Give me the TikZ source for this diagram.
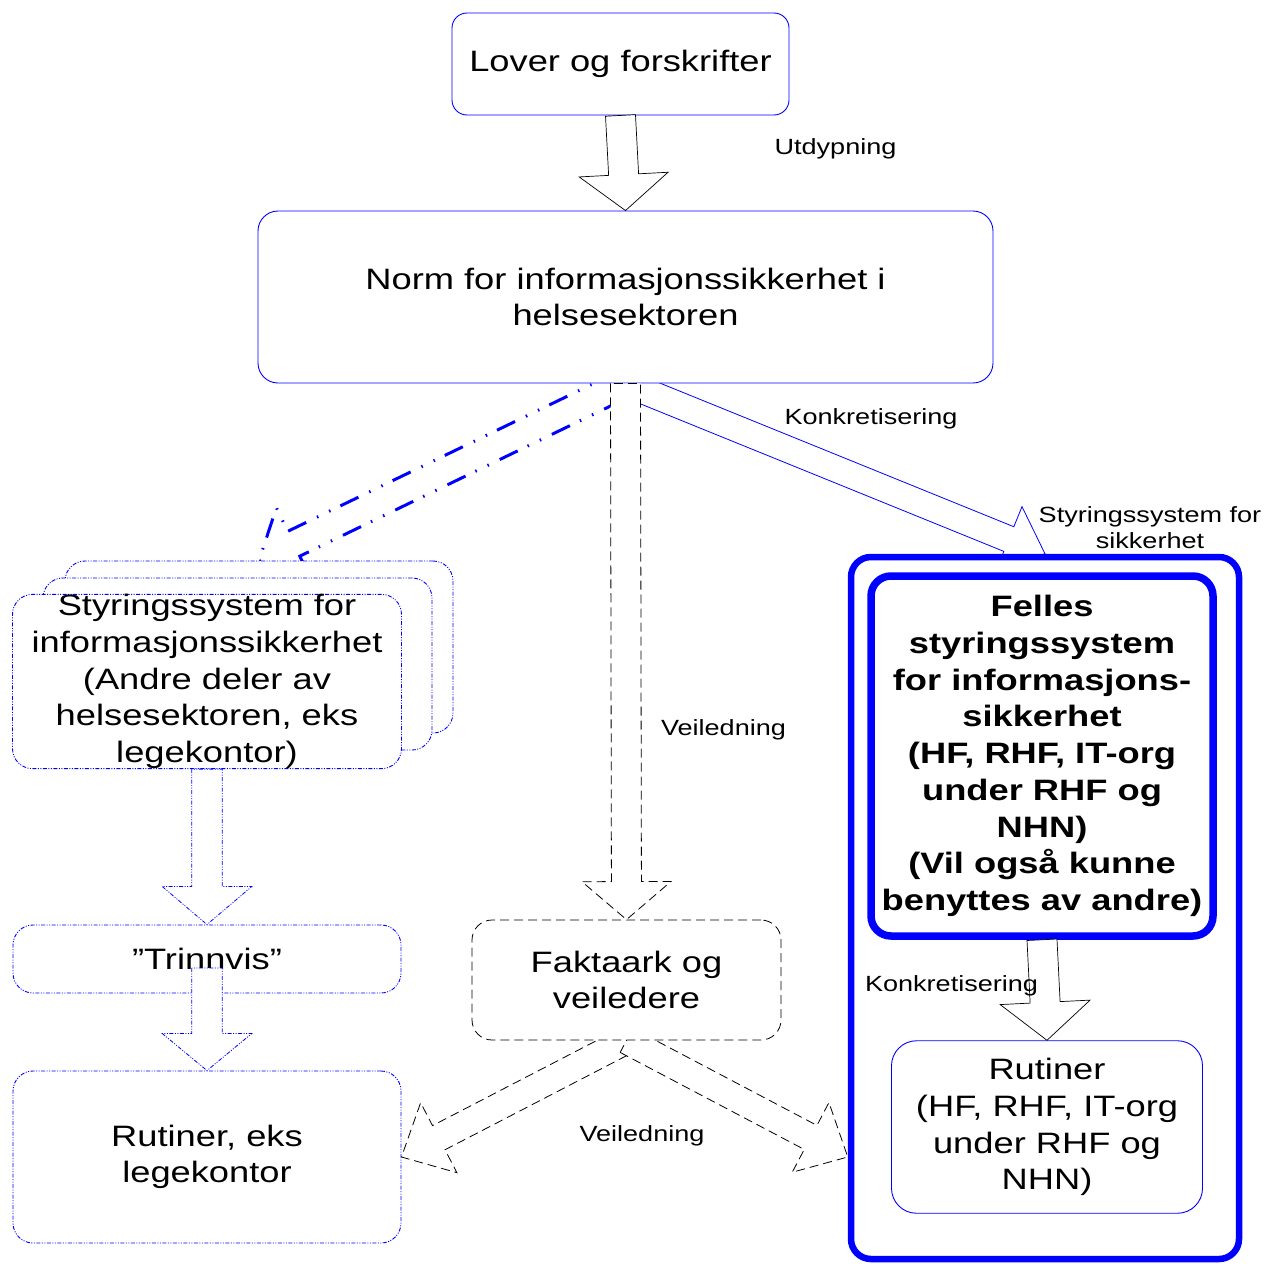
\documentclass[tikz,border=0pt]{standalone}
\usepackage{fontspec}
\setmainfont[FakeStretch=1.23]{Liberation Sans}
\usetikzlibrary{positioning, calc, backgrounds}

% wide hollow arrow: style, from, to, half shaft, half head, head length
\newcommand{\blockarrow}[6]{%
  \filldraw[#1] let \p1=#2, \p2=#3, \n1={atan2(\y2-\y1,\x2-\x1)}, \n2={veclen(\x2-\x1,\y2-\y1)} in
    [shift={(\p1)}, rotate=\n1] (0,#4) -- ({\n2-#6},#4) -- ({\n2-#6},#5) -- (\n2,0)
    -- ({\n2-#6},-#5) -- ({\n2-#6},-#4) -- (0,-#4) -- cycle;}

\begin{document}
\begin{tikzpicture}[x=1pt, y=-1pt, on grid,
  box/.style={draw=blue, line width=0.9pt, fill=white, rounded corners=20pt, align=center,
    inner sep=0pt, font=\fontsize{29.5}{36.7}\selectfont},
  dotbox/.style={box, dash pattern=on 4pt off 1.5pt on 1pt off 1.5pt on 1pt off 1.5pt},
  dashbox/.style={box, draw=black, line width=0.8pt, dash pattern=on 9pt off 5pt},
  lbl/.style={inner sep=0pt, align=center, font=\fontsize{22}{26}\selectfont},
  fatarrow/.style={draw=black, fill=white, line width=0.7pt},
  dasharrow/.style={fatarrow, line width=0.8pt, dash pattern=on 9pt off 5pt},
  dotarrow/.style={fatarrow, draw=blue, line width=0.8pt,
    dash pattern=on 4pt off 1.5pt on 1pt off 1.5pt on 1pt off 1.5pt},
  bluearrow/.style={fatarrow, draw=blue, line width=0.8pt},
  dashdotarrow/.style={fatarrow, draw=blue, line width=3pt,
    dash pattern=on 20pt off 11pt on 1.5pt off 12pt on 1.5pt off 12pt}]

  \useasboundingbox (0,0) rectangle (1265,1263);

  % top
  \node[box, rounded corners=15pt, minimum width=337pt, minimum height=102pt] (lover) at (620.5,64) {Lover og forskrifter};
  \node[box, minimum width=735pt, minimum height=172pt] (norm) [below=233pt of lover, xshift=5pt]
    {Norm for informasjonssikkerhet i\\helsesektoren};

  % left column
  \node[dotbox, minimum width=388pt, minimum height=172pt] (styrb) at (259,647) {};
  \node[dotbox, minimum width=389pt, minimum height=172pt] (styrm) [below left=17pt and 21.5pt of styrb] {};
  \node[dotbox, minimum width=389pt, minimum height=173pt] (styr) [below left=17.5pt and 30.5pt of styrm]
    {Styringssystem for\\informasjonssikkerhet\\(Andre deler av\\helsesektoren, eks\\legekontor)};
  \node[dotbox, minimum width=388pt, minimum height=68pt] (trinn) [below=277.5pt of styr] {”Trinnvis”};
  \node[dotbox, minimum width=388pt, minimum height=172pt] (rutl) [below=198pt of trinn] {Rutiner, eks\\legekontor};

  % middle
  \node[dashbox, minimum width=309pt, minimum height=120pt] (fakta) [below=683pt of norm, xshift=1pt]
    {Faktaark og\\veiledere};

  % right
  \node[box, line width=6.5pt, minimum width=388pt, minimum height=702pt] (outer) at (1045,908) {};
  \node[box, line width=7.5pt, minimum width=342pt, minimum height=360pt,
    font=\bfseries\fontsize{29.5}{36.7}\selectfont] (felles) at (1042,756)
    {Felles\\styringssystem\\for informasjons-\\sikkerhet\\(HF, RHF, IT-org\\under RHF og\\NHN)\\(Vil også kunne\\benyttes av andre)};
  \node[box, rounded corners=25pt, minimum width=311pt, minimum height=172.5pt] (rutr) [below=371pt of felles, xshift=5pt]
    {Rutiner\\(HF, RHF, IT-org\\under RHF og\\NHN)};

  % arrows
  \begin{pgfonlayer}{background}
    \blockarrow{bluearrow}{(norm.south)}{(outer.north)}{13.3}{35}{39}
    \blockarrow{dashdotarrow}{(norm.south)}{(styrb.north)}{13.8}{40}{38.6}
    \blockarrow{dasharrow}{(fakta.south)}{(rutl.east)}{13.6}{39.4}{42}
    \blockarrow{dasharrow}{(fakta.south)}{(outer.west |- rutl.east)}{13.6}{39.4}{42}
  \end{pgfonlayer}
  \blockarrow{fatarrow}{(lover.south)}{(norm.north)}{15}{44.5}{36}
  \blockarrow{dasharrow}{(norm.south)}{(fakta.north)}{15}{44.5}{38}
  \blockarrow{dotarrow}{(styr.south)}{(trinn.north)}{15.3}{44.7}{38}
  \blockarrow{dotarrow}{([yshift=-9pt]trinn.center)}{(rutl.north)}{15.3}{44.7}{37}
  \blockarrow{fatarrow}{(felles.south)}{(rutr.north)}{15}{45}{38}

  % labels
  \node[lbl] (utd) at (835.5,149) {Utdypning};
  \node[lbl] (konk) at (871,419) {Konkretisering};
  \node[lbl] (styrlbl) at (1150,528) {Styringssystem for\\sikkerhet};
  \node[lbl] (veil) at (723.5,730) {Veiledning};
  \node[lbl] (konkb) at (951.5,986) {Konkretisering};
  \node[lbl] (veilb) at (642,1136) {Veiledning};
\end{tikzpicture}
\end{document}
